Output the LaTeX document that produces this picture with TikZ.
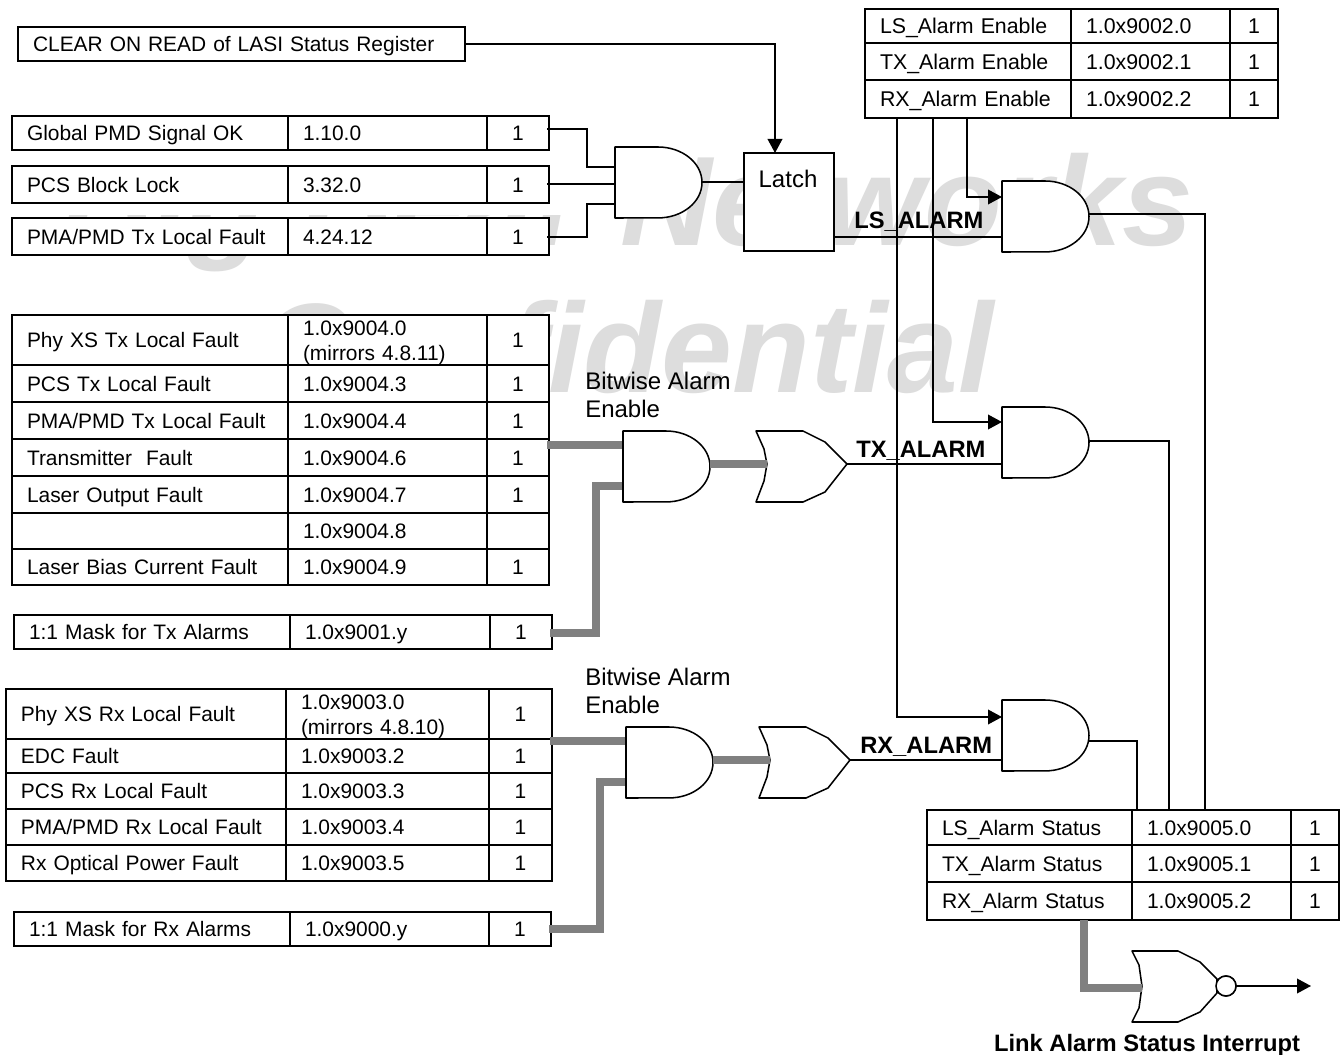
\documentclass[tikz,border=0pt]{standalone}
\usepackage{fontspec}
\setmainfont{Liberation Sans}
\usetikzlibrary{arrows.meta,calc}
\tikzset{
  cell/.style={draw=black,line width=1.5pt,fill=white,inner ysep=0pt,outer sep=0pt,anchor=north west,
    font=\fontsize{\cellsize}{18.6}\selectfont},
  wire/.style={draw=black,line width=1.15pt},
  thickwire/.style={draw=wiregray,line width=5.4pt},
  arrowwire/.style={wire,-{Triangle[length=10.5pt,width=11pt]}},
  gate/.style={draw=black,line width=1.15pt,fill=white,line join=round},
  gbox/.style={inner sep=0pt,outer sep=0pt,anchor=north west,minimum height=53.25pt},
  txt/.style={anchor=base west,inner sep=0pt,font=\fontsize{18}{20}\selectfont},
  boldtxt/.style={anchor=base west,inner sep=0pt,font=\fontsize{17.8}{20}\selectfont\bfseries},
  wm/.style={anchor=base west,inner sep=0pt,text=wmgray,font=\fontsize{95.5}{100}\selectfont\bfseries\itshape}
}
\definecolor{wiregray}{HTML}{808080}
\definecolor{wmgray}{HTML}{DDDDDD}
\def\cellsize{15.7}
% column positions of the current table
\newcommand{\tcols}[4]{\def\xa{#1}\def\xb{#2}\def\xc{#3}\def\xd{#4}}
\newcommand{\cellbody}[1]{\rule{0pt}{15.3pt}#1\rule[-3.6pt]{0pt}{3.6pt}}
% name, y0, y1, label, address, value
\newcommand{\trow}[6]{%
  \pgfmathsetmacro\ch{(#3-#2)*0.75}%
  \pgfmathsetmacro\wa{(\xb-\xa)*0.75}\pgfmathsetmacro\wb{(\xc-\xb)*0.75}\pgfmathsetmacro\wc{(\xd-\xc)*0.75}%
  \node[cell,inner xsep=11.25pt,minimum height=\ch pt,text width=\wa pt-22.5pt,align=left] (#1a) at (\xa,#2) {\cellbody{#4}};
  \node[cell,inner xsep=11.25pt,minimum height=\ch pt,text width=\wb pt-22.5pt,align=left] (#1b) at (\xb,#2) {\cellbody{#5}};
  \node[cell,inner xsep=0pt,minimum height=\ch pt,text width=\wc pt,align=center] (#1c) at (\xc,#2) {\cellbody{#6}};
}
% name, left x, top y
\newcommand{\andgate}[3]{%
  \draw[gate] (#1.north west) -- ++(43,0) arc[start angle=90,end angle=-90,x radius=33pt,y radius=26.6pt] -- (#1.south west) -- cycle;
}
\newcommand{\orgate}[3]{%
  \draw[gate,shift={(#2,#3)}] (0,0) -- (47,0) -- (69,11) -- (91,33) -- (69,61) -- (47,71) -- (0,71) -- (8,50) -- (11,33) -- (8,18) -- cycle;
}
\begin{document}
\begin{tikzpicture}[x=0.75pt,y=-0.75pt]
\useasboundingbox (0,0) rectangle (1343,1055);
\fill[white] (0,0) rectangle (1343,1055);
% watermark, masked on the left as in the reference
\node[wm] (wma) at (61,246) {Big Bear Networks};
\node[wm] (wmb) at (258,393) {Confidential};
\fill[white] (0,100) rectangle (612,215);

% register tables
\node[cell,minimum width=335.25pt,minimum height=25.5pt,inner xsep=11.25pt,text width=312.75pt,align=left] (clr) at (18,27) {\raisebox{0.8pt}{\cellbody{CLEAR ON READ of LASI Status Register}}};

\tcols{12}{288}{487}{549}
\trow{pa}{116}{150}{Global PMD Signal OK}{1.10.0}{1}
\trow{pb}{166}{203}{PCS Block Lock}{3.32.0}{1}
\trow{pc}{218}{255}{PMA/PMD Tx Local Fault}{4.24.12}{1}

\trow{ta}{315}{365}{Phy XS Tx Local Fault}{1.0x9004.0\\(mirrors 4.8.11)}{1}
\trow{tb}{365}{402}{PCS Tx Local Fault}{1.0x9004.3}{1}
\trow{tc}{402}{439}{PMA/PMD Tx Local Fault}{1.0x9004.4}{1}
\trow{td}{439}{476}{Transmitter~ Fault}{1.0x9004.6}{1}
\trow{te}{476}{513}{Laser Output Fault}{1.0x9004.7}{1}
\trow{tf}{513}{549}{}{1.0x9004.8}{}
\trow{tg}{549}{585}{Laser Bias Current Fault}{1.0x9004.9}{1}

\tcols{14}{290}{490}{552}
\trow{tm}{615}{649}{1:1 Mask for Tx Alarms}{1.0x9001.y}{1}

\tcols{6}{286}{489}{552}
\trow{ra}{689}{739}{Phy XS Rx Local Fault}{1.0x9003.0\\(mirrors 4.8.10)}{1}
\trow{rb}{739}{773}{EDC Fault}{1.0x9003.2}{1}
\trow{rc}{773}{809}{PCS Rx Local Fault}{1.0x9003.3}{1}
\trow{rd}{809}{845}{PMA/PMD Rx Local Fault}{1.0x9003.4}{1}
\trow{re}{845}{881}{Rx Optical Power Fault}{1.0x9003.5}{1}

\tcols{14}{290}{489}{551}
\trow{rm}{912}{946}{1:1 Mask for Rx Alarms}{1.0x9000.y}{1}

\def\cellsize{16}
\tcols{865}{1071}{1230}{1278}
\trow{ea}{9}{43}{LS\_Alarm Enable}{1.0x9002.0}{1}
\trow{eb}{43}{80}{TX\_Alarm Enable}{1.0x9002.1}{1}
\trow{ec}{80}{118}{RX\_Alarm Enable}{1.0x9002.2}{1}

\def\cellsize{15.8}
\tcols{927}{1132}{1291}{1339}
\trow{sa}{810}{845}{LS\_Alarm Status}{1.0x9005.0}{1}
\trow{sb}{845}{882}{TX\_Alarm Status}{1.0x9005.1}{1}
\trow{sc}{882}{920}{RX\_Alarm Status}{1.0x9005.2}{1}

% gate and latch anchors
\node[gbox,minimum width=65.25pt] (g0) at (615,147) {};
\node[gbox,minimum width=65.25pt] (gls) at (1002,181) {};
\node[gbox,minimum width=65.25pt] (gtx) at (1002,407) {};
\node[gbox,minimum width=65.25pt] (grx) at (1002,700) {};
\node[gbox,minimum width=65.25pt] (gt) at (623,431) {};
\node[gbox,minimum width=65.25pt] (gr) at (626,727) {};
\node[gbox,minimum width=68.25pt] (ot) at (756,431) {};
\node[gbox,minimum width=68.25pt] (or) at (759,727) {};
\node[draw=black,line width=1.15pt,fill=white,inner sep=0pt,outer sep=0pt,anchor=north west,minimum width=67.5pt,minimum height=73.5pt] (latch) at (744,153) {};
\node[gbox,minimum width=63pt] (nor) at (1132,951) {};
\node[draw=black,line width=1.15pt,fill=white,circle,inner sep=0pt,outer sep=0pt,minimum size=15pt] (bub) at (1226,986) {};
\coordinate (out) at (1311,986);

% wires
\draw[arrowwire] (clr.east |- 0,44) -| (latch.north -| 775,0);
\draw[wire] (pac.east |- 0,129) ++(-2,0) -- (587,129) |- (g0.west |- 0,167);
\draw[wire] (pbc.east |- 0,184) ++(-2,0) -- (g0.west |- 0,184);
\draw[wire] (pcc.east |- 0,237) ++(-2,0) -- (587,237) |- (g0.west |- 0,204);
\draw[wire] (g0.east |- 0,182) -- (latch.west |- 0,182);
\draw[wire] (latch.east |- 0,237) -- (gls.west |- 0,237);
\draw[arrowwire] (eca.south -| 967,0) |- (gls.west |- 0,197);
\draw[arrowwire] (eca.south -| 933,0) |- (gtx.west |- 0,422);
\draw[arrowwire] (eca.south -| 897,0) |- (grx.west |- 0,717);
\draw[wire] (gls.east |- 0,214) -| (sab.north -| 1205,0);
\draw[wire] (gtx.east |- 0,441) -| (sab.north -| 1169,0);
\draw[wire] (grx.east |- 0,741) -| (sab.north -| 1137,0);
\draw[wire] (ot.east |- 0,464) -- (gtx.west |- 0,464);
\draw[wire] (or.east |- 0,760) -- (grx.west |- 0,760);

\draw[thickwire] (tdc.east |- 0,445) ++(-2,0) -- (gt.west |- 0,445);
\draw[thickwire] (tmc.east |- 0,633) ++(-2,0) -- (596,633) |- (gt.west |- 0,486);
\draw[thickwire] (rac.east |- 0,741) ++(-2,0) -- (gr.west |- 0,741);
\draw[thickwire] (rmc.east |- 0,929) ++(-2,0) -- (600,929) |- (gr.west |- 0,782);
\draw[thickwire] (sca.south -| 1084,0) |- (1142,988);
\draw[arrowwire] (bub.east) -- (out);

% gates
\andgate{g0}{615}{147}
\andgate{gls}{1002}{181}
\andgate{gtx}{1002}{407}
\andgate{grx}{1002}{700}
\andgate{gt}{623}{431}
\andgate{gr}{626}{727}
\orgate{ot}{756}{431}
\orgate{or}{759}{727}
\draw[thickwire] (gt.east |- 0,464) -- (767,464);
\draw[thickwire] (gr.east |- 0,760) -- (770,760);
\draw[gate] (nor.north west) -- (1178,951) -- (1200,962) -- (1217,979) -- (1217,993) -- (1200,1012) -- (1178,1022) -- (nor.south west) -- (1139,1008) -- (1142,986) -- (1139,965) -- cycle;
\draw[draw=black,line width=1.15pt,fill=white] (bub) circle[radius=7.5pt];
\draw[thickwire] (1130,988) -- (1142,988);

% labels
\node[txt,anchor=center] (lt) at (788,179) {Latch};
\node[boldtxt] (lls) at (854,229) {LS\_ALARM};
\node[boldtxt] (ltx) at (856,458) {TX\_ALARM};
\node[boldtxt] (lrx) at (860,753) {RX\_ALARM};
\node[txt] (ba) at (585,390) {Bitwise Alarm};
\node[txt] (bb) at (585,418) {Enable};
\node[txt] (bc) at (585,685) {Bitwise Alarm};
\node[txt] (bd) at (585,713) {Enable};
\node[boldtxt,anchor=base] (link) at (1147,1051) {Link Alarm Status Interrupt};
\end{tikzpicture}
\end{document}
